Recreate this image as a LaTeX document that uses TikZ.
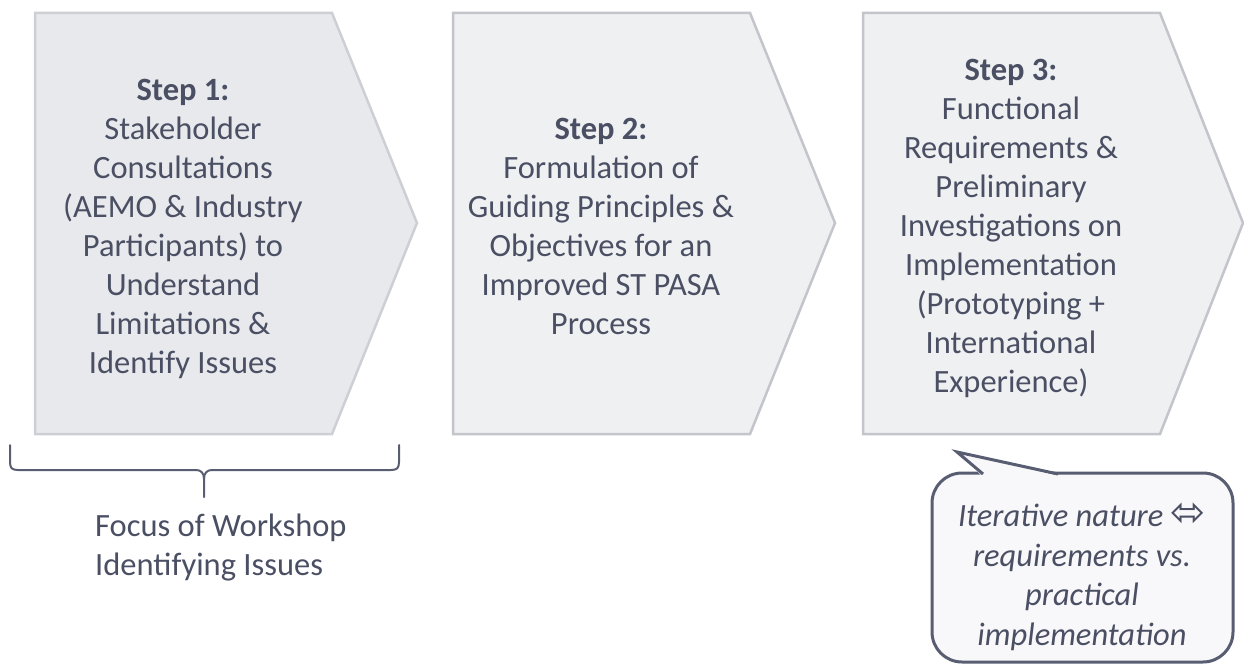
\documentclass[tikz,border=0pt]{standalone}
\usepackage{fontspec}
\setmainfont{Carlito}
\newfontfamily\symfont{DejaVu Sans}
\definecolor{inkc}{HTML}{4A4F63}
\definecolor{stepfillA}{HTML}{E8E9EC}
\definecolor{stepfillB}{HTML}{EFF0F2}
\definecolor{steplineA}{HTML}{CDCFD4}
\definecolor{steplineB}{HTML}{C3C5CB}
\definecolor{bubblefill}{HTML}{F8F8FA}
\definecolor{bubbleline}{HTML}{585D71}
\begin{document}
\begin{tikzpicture}[x=1pt,y=-1pt,
  chevron/.style={line width=2.5pt, line join=miter},
  basetext/.style={text=inkc, inner sep=0pt, font=\fontsize{32.5}{39}\selectfont},
  steptext/.style={basetext, align=center},
  notetext/.style={basetext, align=left},
  bubbletext/.style={basetext, align=center, font=\fontsize{32.5}{39.5}\selectfont\itshape},
  bracket/.style={draw=bubbleline, line width=2pt, line cap=round, line join=round},
  bubble/.style={draw=bubbleline, fill=bubblefill, line width=3pt}]
\useasboundingbox (0,0) rectangle (1244,666);

% chevron-shaped step panels
\path[chevron, fill=stepfillA, draw=steplineA]
  (35,13) -- (332,13) -- (417,223) -- (332,434) -- (35,434) -- cycle;
\path[chevron, fill=stepfillB, draw=steplineB]
  (453,13) -- (750,13) -- (835,223) -- (750,434) -- (453,434) -- cycle;
\path[chevron, fill=stepfillB, draw=steplineB]
  (863,13) -- (1160,13) -- (1243,223) -- (1160,434) -- (863,434) -- cycle;

\node[steptext] (s1) at (183,229) {\textbf{Step 1:}\\Stakeholder\\Consultations\\(AEMO \& Industry\\Participants) to\\Understand\\Limitations \&\\Identify Issues};
\node[steptext] (s2) at (601,226) {\textbf{Step 2:}\\Formulation of\\Guiding Principles \&\\Objectives for an\\Improved ST PASA\\Process};
\node[steptext] (s3) at (1011,228.5) {\textbf{Step 3:}\\Functional\\Requirements \&\\Preliminary\\Investigations on\\Implementation\\(Prototyping +\\International\\Experience)};

% bracket under step 1
\coordinate (bl) at (10,445);
\coordinate (br) at (399,445);
\coordinate (bt) at (204,497);
\draw[bracket] (bl) -- (10,462) .. controls (10,468) and (12,470) .. (18,470)
  -- (196,470) .. controls (201,470) and (204,473) .. (204,479) -- (bt);
\draw[bracket] (br) -- (399,462) .. controls (399,468) and (397,470) .. (391,470)
  -- (212,470) .. controls (207,470) and (204,473) .. (204,479);
\node[notetext, anchor=north west] (focus) at (95,514) {Focus of Workshop\\Identifying Issues};

% speech bubble
\draw[bubble, rounded corners=30pt] (932,473) rectangle (1233,662);
\fill[bubblefill] (982,476) -- (957,452) -- (1060,476) -- cycle;
\draw[bubble, fill=none, line join=miter] (983,474) -- (957,452) -- (1058,474);
\node[bubbletext] (note) at (1082,577) {Iterative nature {\upshape\symfont\fontsize{42}{39}\selectfont ⬄}\\requirements vs.\\practical\\implementation};
\end{tikzpicture}
\end{document}
